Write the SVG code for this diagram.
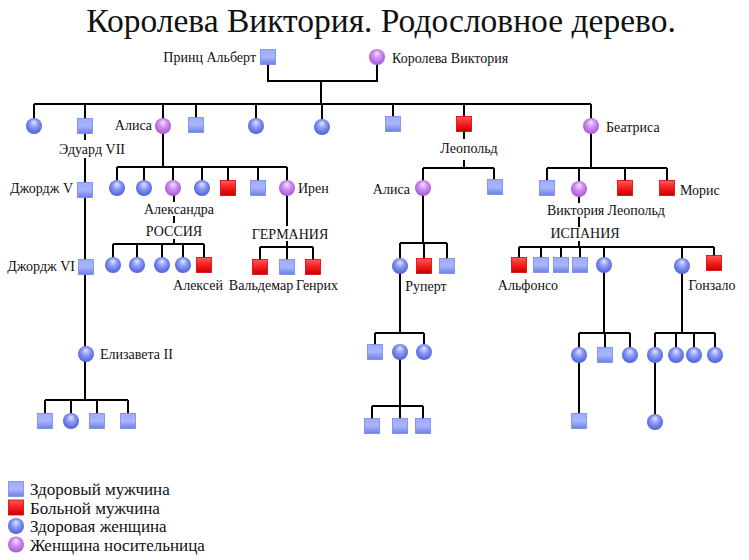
<svg xmlns="http://www.w3.org/2000/svg" width="749" height="560" viewBox="0 0 749 560">
<defs>
<linearGradient id="gBlueSq" x1="0" y1="0" x2="0" y2="1">
<stop offset="0" stop-color="#9eabf7"/><stop offset="0.5" stop-color="#a9b5fa"/><stop offset="1" stop-color="#6d7fe8"/>
</linearGradient>
<linearGradient id="gRedSq" x1="0" y1="0" x2="0" y2="1">
<stop offset="0" stop-color="#ff5a5a"/><stop offset="0.5" stop-color="#f51c1c"/><stop offset="1" stop-color="#c80000"/>
</linearGradient>
<radialGradient id="gBlueCi" cx="0.5" cy="0.45" r="0.55" fx="0.5" fy="0.25">
<stop offset="0" stop-color="#e4e8ff"/><stop offset="0.45" stop-color="#8e9cf4"/><stop offset="1" stop-color="#4d5fdc"/>
</radialGradient>
<radialGradient id="gMagCi" cx="0.5" cy="0.45" r="0.55" fx="0.5" fy="0.25">
<stop offset="0" stop-color="#f7e2ff"/><stop offset="0.45" stop-color="#d193f2"/><stop offset="1" stop-color="#a556d6"/>
</radialGradient>
</defs>
<style>
.bs{fill:url(#gBlueSq);stroke:#7788e6;stroke-width:0.8}
.rs{fill:url(#gRedSq);stroke:#d80000;stroke-width:0.8}
.bc{fill:url(#gBlueCi)}
.mc{fill:url(#gMagCi)}
.ln{fill:none;stroke:#000;stroke-width:2}
text{font-family:"Liberation Serif","Times New Roman",serif;fill:#111}
.lb{font-size:14px}
.lg{font-size:17px}
.mid{text-anchor:middle}
.end{text-anchor:end}
</style>
<rect width="749" height="560" fill="#fff"/>
<text x="381" y="32" class="mid" font-size="33.5">Королева Виктория. Родословное дерево.</text>

<g id="connectors" class="ln">
<path class="ln" d="M268,57 V81 H377 V57 M321,81 V104 M34,104 H591"/>
<path class="ln" d="M34,104 V126 M85,104 V126 M163,104 V126 M196,104 V125 M256,104 V126 M322,104 V127 M393,104 V124 M464,104 V124 M591,104 V126"/>
<path class="ln" d="M85,126 V140 M85,158 V190 V267 V354 V400 M45,400 H128 M45,400 V421 M71,400 V421 M97,400 V421 M128,400 V421"/>
<path class="ln" d="M163,126 V167 M117,167 H287 M117,167 V188 M144,167 V188 M173,167 V188 M202,167 V188 M228,167 V188 M258,167 V188 M287,167 V188"/>
<path class="ln" d="M174,188 V202 M174,216 V223 M174,239 V244 M113,244 H204 M113,244 V265 M137,244 V265 M162,244 V265 M183,244 V265 M204,244 V265"/>
<path class="ln" d="M287,188 V226 M287,241 V247 M260,247 H313 M260,247 V267 M287,247 V267 M313,247 V267"/>
<path class="ln" d="M464,124 V139 M464,160 V168 M423,168 H494 M423,168 V188 M494,168 V187"/>
<path class="ln" d="M423,188 V243 M400,243 H447 M400,243 V266 M424,243 V266 M447,243 V266"/>
<path class="ln" d="M400,266 V333 M375,333 H424 M375,333 V352 M424,333 V352 M400,352 V406 M372,406 H423 M372,406 V426 M400,406 V426 M423,406 V426"/>
<path class="ln" d="M591,126 V168 M547,168 H667 M547,168 V188 M579,168 V189 M625,168 V188 M667,168 V188"/>
<path class="ln" d="M579,189 V203 M579,217 V227 M579,241 V247 M519,247 H714 M519,247 V265 M541,247 V265 M561,247 V265 M580,247 V265 M604,247 V265 M682,247 V266 M714,247 V263"/>
<path class="ln" d="M604,265 V333 M579,333 H630 M579,333 V421 M605,333 V355 M630,333 V355"/>
<path class="ln" d="M682,266 V333 M655,333 H715 M655,333 V422 M676,333 V355 M694,333 V355 M715,333 V355"/>
</g>

<g id="albert"><rect class="bs" x="260.5" y="49.5" width="15" height="15"/><text class="lb end" x="256" y="62">Принц Альберт</text></g>
<g id="victoria"><circle class="mc" cx="377" cy="57" r="8"/><text class="lb" x="392" y="63">Королева Виктория</text></g>

<g id="g1_1"><circle class="bc" cx="34" cy="126" r="8"/></g>
<g id="edward"><rect class="bs" x="77.5" y="118.5" width="15" height="15"/><text class="lb mid" x="92" y="154">Эдуард VII</text></g>
<g id="alice"><circle class="mc" cx="163" cy="126" r="8"/><text class="lb end" x="152" y="130">Алиса</text></g>
<g id="g1_4"><rect class="bs" x="188.5" y="117.5" width="15" height="15"/></g>
<g id="g1_5"><circle class="bc" cx="256" cy="126" r="8"/></g>
<g id="g1_6"><circle class="bc" cx="322" cy="127" r="8"/></g>
<g id="g1_7"><rect class="bs" x="385.5" y="116.5" width="15" height="15"/></g>
<g id="leopold"><rect class="rs" x="456.5" y="116.5" width="15" height="15"/><text class="lb mid" x="469" y="153">Леопольд</text></g>
<g id="beatrice"><circle class="mc" cx="591" cy="126" r="8"/><text class="lb" x="606" y="132">Беатриса</text></g>

<g id="georgeV"><rect class="bs" x="77.5" y="182.5" width="15" height="15"/><text class="lb end" x="73" y="193">Джордж V</text></g>
<g id="a1"><circle class="bc" cx="117" cy="188" r="8"/></g>
<g id="a2"><circle class="bc" cx="144" cy="188" r="8"/></g>
<g id="alexandra"><circle class="mc" cx="173" cy="188" r="8"/><text class="lb mid" x="179" y="214">Александра</text><text class="lb mid" x="174" y="236">РОССИЯ</text></g>
<g id="a4"><circle class="bc" cx="202" cy="188" r="8"/></g>
<g id="a5"><rect class="rs" x="220.5" y="180.5" width="15" height="15"/></g>
<g id="a6"><rect class="bs" x="250.5" y="180.5" width="15" height="15"/></g>
<g id="irene"><circle class="mc" cx="287" cy="188" r="8"/><text class="lb" x="298" y="193">Ирен</text><text class="lb mid" x="290" y="239">ГЕРМАНИЯ</text></g>

<g id="alice2"><circle class="mc" cx="423" cy="188" r="8"/><text class="lb end" x="410" y="194">Алиса</text></g>
<g id="l2"><rect class="bs" x="487.5" y="179.5" width="15" height="15"/></g>
<g id="b1"><rect class="bs" x="539.5" y="180.5" width="15" height="15"/></g>
<g id="victoriaE"><circle class="mc" cx="579" cy="189" r="8"/><text class="lb" x="547" y="215">Виктория</text><text class="lb mid" x="585" y="238">ИСПАНИЯ</text></g>
<g id="leopoldB"><rect class="rs" x="617.5" y="180.5" width="15" height="15"/><text class="lb end" x="665" y="215">Леопольд</text></g>
<g id="maurice"><rect class="rs" x="659.5" y="180.5" width="15" height="15"/><text class="lb" x="680" y="195">Морис</text></g>

<g id="georgeVI"><rect class="bs" x="78.5" y="259.5" width="15" height="15"/><text class="lb end" x="75" y="271">Джордж VI</text></g>
<g id="r1"><circle class="bc" cx="113" cy="265" r="8"/></g>
<g id="r2"><circle class="bc" cx="137" cy="265" r="8"/></g>
<g id="r3"><circle class="bc" cx="162" cy="265" r="8"/></g>
<g id="r4"><circle class="bc" cx="183" cy="265" r="8"/></g>
<g id="alexei"><rect class="rs" x="196.5" y="257.5" width="15" height="15"/><text class="lb mid" x="198" y="290">Алексей</text></g>
<g id="waldemar"><rect class="rs" x="252.5" y="259.5" width="15" height="15"/><text class="lb mid" x="261" y="290">Вальдемар</text></g>
<g id="ge2"><rect class="bs" x="279.5" y="259.5" width="15" height="15"/></g>
<g id="heinrich"><rect class="rs" x="305.5" y="259.5" width="15" height="15"/><text class="lb mid" x="317" y="290">Генрих</text></g>

<g id="rupert"><circle class="bc" cx="400" cy="266" r="8"/><text class="lb mid" x="426" y="291">Руперт</text></g>
<g id="l3"><rect class="rs" x="416.5" y="258.5" width="15" height="15"/></g>
<g id="l4"><rect class="bs" x="439.5" y="258.5" width="15" height="15"/></g>

<g id="alfonso"><rect class="rs" x="511.5" y="257.5" width="15" height="15"/><text class="lb mid" x="528" y="290">Альфонсо</text></g>
<g id="s2"><rect class="bs" x="533.5" y="257.5" width="15" height="15"/></g>
<g id="s3"><rect class="bs" x="553.5" y="257.5" width="15" height="15"/></g>
<g id="s4"><rect class="bs" x="572.5" y="257.5" width="15" height="15"/></g>
<g id="s5"><circle class="bc" cx="604" cy="265" r="8"/></g>
<g id="s6"><circle class="bc" cx="682" cy="266" r="8"/></g>
<g id="gonzalo"><rect class="rs" x="706.5" y="255.5" width="15" height="15"/><text class="lb mid" x="712" y="290">Гонзало</text></g>

<g id="elizabeth"><circle class="bc" cx="86" cy="354" r="8"/><text class="lb" x="100" y="359">Елизавета II</text></g>
<g id="e1"><rect class="bs" x="37.5" y="413.5" width="15" height="15"/></g>
<g id="e2"><circle class="bc" cx="71" cy="421" r="8"/></g>
<g id="e3"><rect class="bs" x="89.5" y="413.5" width="15" height="15"/></g>
<g id="e4"><rect class="bs" x="120.5" y="413.5" width="15" height="15"/></g>

<g id="ru1"><rect class="bs" x="367.5" y="344.5" width="15" height="15"/></g>
<g id="ru2"><circle class="bc" cx="400" cy="352" r="8"/></g>
<g id="ru3"><circle class="bc" cx="424" cy="352" r="8"/></g>
<g id="rr1"><rect class="bs" x="364.5" y="418.5" width="15" height="15"/></g>
<g id="rr2"><rect class="bs" x="392.5" y="418.5" width="15" height="15"/></g>
<g id="rr3"><rect class="bs" x="415.5" y="418.5" width="15" height="15"/></g>

<g id="t1"><circle class="bc" cx="579" cy="355" r="8"/></g>
<g id="t2"><rect class="bs" x="597.5" y="347.5" width="15" height="15"/></g>
<g id="t3"><circle class="bc" cx="630" cy="355" r="8"/></g>
<g id="t1a"><rect class="bs" x="571.5" y="413.5" width="15" height="15"/></g>

<g id="u1"><circle class="bc" cx="655" cy="355" r="8"/></g>
<g id="u2"><circle class="bc" cx="676" cy="355" r="8"/></g>
<g id="u3"><circle class="bc" cx="694" cy="355" r="8"/></g>
<g id="u4"><circle class="bc" cx="715" cy="355" r="8"/></g>
<g id="u1a"><circle class="bc" cx="655" cy="422" r="8"/></g>

<g id="legend">
<rect class="bs" x="8.5" y="481.5" width="15" height="15"/><text class="lg" x="30" y="495">Здоровый мужчина</text>
<rect class="rs" x="8.5" y="500" width="15" height="15"/><text class="lg" x="30" y="513.5">Больной мужчина</text>
<circle class="bc" cx="16" cy="526" r="8"/><text class="lg" x="30" y="532">Здоровая женщина</text>
<circle class="mc" cx="16" cy="544.5" r="8"/><text class="lg" x="30" y="550.5">Женщина носительница</text>
</g>
</svg>
